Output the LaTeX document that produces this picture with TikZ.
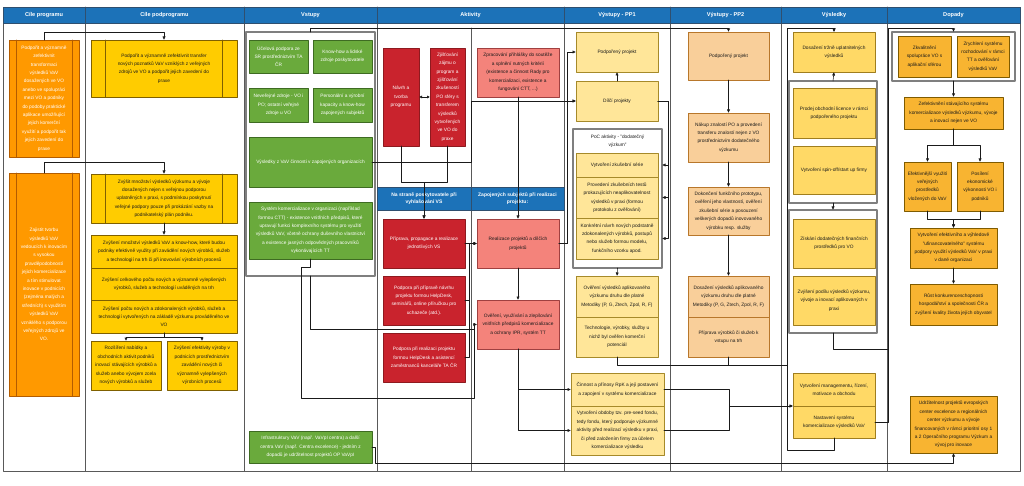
\documentclass[tikz,border=0pt]{standalone}
\usepackage{fontspec}
\setmainfont{Liberation Sans}
\usepackage{tikz}
\usetikzlibrary{arrows.meta,positioning,calc}
\definecolor{hdrblue}{HTML}{1C72B8}
\definecolor{hdrline}{HTML}{2F4F6F}
\definecolor{lanegray}{HTML}{595959}
\definecolor{boxgray}{HTML}{7F7F7F}
\definecolor{ink}{HTML}{1A1A1A}
\definecolor{orng}{HTML}{FF9900}
\definecolor{orngdark}{HTML}{B35C00}
\definecolor{gold}{HTML}{FFCC00}
\definecolor{golddark}{HTML}{7F6000}
\definecolor{leaf}{HTML}{6AAA3C}
\definecolor{leafdark}{HTML}{3E6B22}
\definecolor{crimson}{HTML}{C9232D}
\definecolor{crimsondark}{HTML}{8E1A1F}
\definecolor{salmon}{HTML}{F4837B}
\definecolor{salmondark}{HTML}{A04040}
\definecolor{paleyellow}{HTML}{FFE699}
\definecolor{paledark}{HTML}{A68A2A}
\definecolor{peach}{HTML}{F9CF9A}
\definecolor{peachdark}{HTML}{B8772B}
\definecolor{sand}{HTML}{FFD966}
\definecolor{sanddark}{HTML}{A07E1E}
\definecolor{amber}{HTML}{F8B431}
\definecolor{amberdark}{HTML}{7F5B00}
\tikzset{
    every picture/.style={line cap=round,line join=round},
    lmbox/.style={draw,line width=0.6pt,inner sep=1pt,outer sep=0pt,
      align=center,text=ink,font=\fontsize{4.8}{8.4}\selectfont},
    goalbox/.style={lmbox,fill=orng,draw=orngdark,text=white},
    subgoal/.style={lmbox,fill=gold,draw=golddark},
    inputbox/.style={lmbox,fill=leaf,draw=leafdark,text=white},
    actbox/.style={lmbox,fill=crimson,draw=crimsondark,text=white},
    projbox/.style={lmbox,fill=salmon,draw=salmondark},
    outone/.style={lmbox,fill=paleyellow,draw=paledark},
    outtwo/.style={lmbox,fill=peach,draw=peachdark},
    resultbox/.style={lmbox,fill=sand,draw=sanddark},
    impactbox/.style={lmbox,fill=amber,draw=amberdark},
    groupbox/.style={draw=boxgray,line width=1.2pt,fill=white,inner sep=0pt,outer sep=0pt},
    pocnote/.style={inner sep=0pt,align=center,text=ink,font=\fontsize{4.8}{8.4}\selectfont},
    lanehead/.style={draw=hdrline,fill=hdrblue,text=white,line width=0.6pt,
      inner sep=0pt,outer sep=0pt,align=center,font=\fontsize{5.6}{6.5}\selectfont\bfseries},
    sublane/.style={lanehead,font=\fontsize{5}{7.5}\selectfont\bfseries},
    lanerule/.style={draw=lanegray,line width=0.6pt},
    link/.style={draw=ink,line width=0.55pt},
    flow/.style={link,-{Latex[length=3.5pt,width=3.2pt]}}
}
\begin{document}
\begin{tikzpicture}[x=1pt,y=-1pt]
  \useasboundingbox (0,0) rectangle (1024,486);
  \draw[lanerule] (3,7) rectangle (1020,471);
  \foreach \x in {85,244,377,564,670,781,887}
    \draw[lanerule] (\x,7) -- (\x,471);
  \draw[lanerule] (471,28) -- (471,471);
  \foreach \n/\xa/\xb/\lbl in {hA/3/85/Cíle programu,hB/85/244/Cíle podprogramu,
      hC/244/377/Vstupy,hD/377/564/Aktivity,hE/564/670/Výstupy - PP1,
      hF/670/781/Výstupy - PP2,hG/781/887/Výsledky,hH/887/1020/Dopady}
    \node[lanehead,minimum width={(\xb-\xa)*1pt},minimum height=16pt] (\n) at ({(\xa+\xb)/2},15) {\lbl};
  \node[sublane,minimum width=94pt,minimum height=23pt] (sA) at (424,198.5) {Na straně poskytovatele při\\vyhlašování VS};
  \node[sublane,minimum width=93pt,minimum height=23pt] (sB) at (517.5,198.5) {Zapojených subjektů při realizaci\\projektu:};

  % cile
  \node[goalbox,minimum width=70pt,minimum height=117pt] (c1a) at (44,98.5) {Podpořit a významně\\zefektivnit\\transformaci\\výsledků VaV\\dosažených ve VO\\anebo ve spolupráci\\mezi VO a podniky\\do podoby praktické\\aplikace umožňující\\jejich komerční\\využití a podpořit tak\\jejich zavedení do\\praxe};
  \node[goalbox,minimum width=70pt,minimum height=223pt] (c1b) at (44,284.5) {Zajistit tvorbu\\výsledků VaV\\vedoucích k inovacím\\s vysokou\\pravděpodobností\\jejich komercializace\\a tím stimulovat\\inovace v podnicích\\(zejména malých a\\středních) s využitím\\výsledků VaV\\vzniklého s podporou\\veřejných zdrojů ve\\VO.};
  \node[subgoal,minimum width=146pt,minimum height=57pt] (c2a) at (164,68.5) {Podpořit a významně zefektivnit transfer\\nových poznatků VaV vzniklých z veřejných\\zdrojů ve VO a podpořit jejich zavedení do\\praxe};
  \node[subgoal,minimum width=146pt,minimum height=49pt] (c2b) at (164,198.5) {Zvýšit množství výsledků výzkumu a vývoje\\dosažených nejen s veřejnou podporou\\uplatněných v praxi, s podmínkou poskytnutí\\veřejné podpory pouze při prokázání vazby na\\podnikatelský plán podniku.};
  \node[subgoal,minimum width=146pt,minimum height=33pt] (c2c) at (164,251.5) {Zvýšení množství výsledků VaV a know-how, které budou\\podniky efektivně využity při zavádění nových výrobků, služeb\\a technologií na trh či při inovování výrobních procesů};
  \node[subgoal,minimum width=146pt,minimum height=32pt,below=0pt of c2c] (c2d) {Zvýšení celkového počtu nových a významně vylepšených\\výrobků, služeb a technologií uváděných na trh};
  \node[subgoal,minimum width=146pt,minimum height=33pt,below=0pt of c2d] (c2e) {Zvýšení počtu nových a zdokonalených výrobků, služeb a\\technologií vytvořených na základě výzkumu prováděného ve\\VO};
  \node[subgoal,minimum width=70pt,minimum height=49pt] (c2f) at (126,365.5) {Rozšíření nabídky a\\obchodních aktivit podniků\\inovací stávajících výrobků a\\služeb anebo vývojem zcela\\nových výrobků a služeb};
  \node[subgoal,minimum width=70pt,minimum height=49pt] (c2g) at (202,365.5) {Zvýšení efektivity výroby v\\podnicích prostřednictvím\\zavádění nových či\\významně vylepšených\\výrobních procesů};
  \foreach \b/\d/\c in {c1a/7/orngdark,c1b/7/orngdark,c2a/14.5/golddark,c2b/14.5/golddark} {
    \draw[\c,line width=0.6pt] ($(\b.north west)+(\d,0)$) -- ($(\b.south west)+(\d,0)$);
    \draw[\c,line width=0.6pt] ($(\b.north east)+(-\d,0)$) -- ($(\b.south east)+(-\d,0)$);
  }

  % vstupy
  \node[groupbox,minimum width=129pt,minimum height=244pt] (vst) at (310.5,154) {};
  \node[inputbox,minimum width=59pt,minimum height=33pt] (v1) at (278.5,56.5) {Účelová podpora ze\\SR prostřednictvím TA\\ČR};
  \node[inputbox,minimum width=59pt,minimum height=33pt] (v2) at (342.5,56.5) {Know-how a lidské\\zdroje poskytovatele};
  \node[inputbox,minimum width=59pt,minimum height=34pt] (v3) at (278.5,105) {Neveřejné zdroje - VO i\\PO; ostatní veřejné\\zdroje u VO};
  \node[inputbox,minimum width=59pt,minimum height=34pt] (v4) at (342.5,105) {Personální a výrobní\\kapacity a know-how\\zapojených subjektů};
  \node[inputbox,minimum width=123pt,minimum height=50pt] (v5) at (310.5,162) {Výsledky z VaV činnosti v zapojených organizacích};
  \node[inputbox,minimum width=123pt,minimum height=57pt] (v6) at (310.5,230.5) {Systém komercializace v organizaci (například\\formou CTT) - existence vnitřních předpisů, které\\upravují funkci komplexního systému pro využití\\výsledků VaV, včetně ochrany duševního vlastnictví\\a existence jasných odpovědných pracovníků\\vykonávajících TT};
  \node[inputbox,minimum width=123pt,minimum height=32pt] (v7) at (310.5,447) {Infrastruktury VaV (např. VaVpI centra) a další\\centra VaV (např. Centra excelence) - jedním z\\dopadů je udržitelnost projektů OP VaVpI};

  % aktivity
  \node[actbox,minimum width=36pt,minimum height=98pt] (a1) at (401,97) {Návrh a\\tvorba\\programu};
  \node[actbox,minimum width=35pt,minimum height=98pt] (a2) at (447.5,97) {Zjišťování\\zájmu o\\program a\\zjišťování\\zkušeností\\PO sféry s\\transferem\\výsledků\\vytvořených\\ve VO do\\praxe};
  \node[actbox,minimum width=82pt,minimum height=49pt] (a3) at (424,243.5) {Příprava, propagace a realizace\\jednotlivých VS};
  \node[actbox,minimum width=82pt,minimum height=49pt] (a4) at (424,300.5) {Podpora při přípravě návrhu\\projektu formou HelpDesk,\\seminářů, online příručkou pro\\uchazeče (atd.).};
  \node[actbox,minimum width=82pt,minimum height=49pt] (a5) at (424,357.5) {Podpora při realizaci projektu\\formou HelpDesk a asistencí\\zaměstnanců kanceláře TA ČR};
  \node[projbox,minimum width=82pt,minimum height=49pt] (b1) at (518,72.5) {Zpracování přihlášky do soutěže\\a splnění nutných kritérií\\(existence a činnost Rady pro\\komercializaci, existence a\\fungování CTT, ...)};
  \node[projbox,minimum width=82pt,minimum height=49pt] (b2) at (518,243.5) {Realizace projektů a dílčích\\projektů};
  \node[projbox,minimum width=82pt,minimum height=49pt] (b3) at (518,324.5) {Ověření, využívání a zlepšování\\vnitřních předpisů komercializace\\a ochrany IPR, systém TT};

  % vystupy PP1
  \node[outone,minimum width=82pt,minimum height=40pt] (p1) at (617,52) {Podpořený projekt};
  \node[outone,minimum width=82pt,minimum height=40pt] (p2) at (617,101) {Dílčí projekty};
  \node[groupbox,minimum width=89pt,minimum height=139pt] (poc) at (617.5,198.5) {};
  \node[pocnote] (poct) at (617.5,141.5) {PoC aktivity - "dodatečný\\výzkum"};
  \node[outone,minimum width=82pt,minimum height=24pt] (p3) at (617,165) {Vytvoření zkušební série};
  \node[outone,minimum width=82pt,minimum height=41pt,below=0pt of p3] (p4) {Provedení zkušebních testů\\prokazujících neaplikovatelnost\\výsledků v praxi (formou\\protokolu z ověřování)};
  \node[outone,minimum width=82pt,minimum height=41pt,below=0pt of p4] (p5) {Konkrétní návrh nových podstatně\\zdokonalených výrobků, postupů\\nebo služeb formou modelu,\\funkčního vzorku apod.};
  \node[outone,minimum width=82pt,minimum height=41pt] (p6) at (617,296.5) {Ověření výsledků aplikovaného\\výzkumu druhu dle platné\\Metodiky (P, G, Ztech, Zpol, R, F)};
  \node[outone,minimum width=82pt,minimum height=40pt,below=0pt of p6] (p7) {Technologie, výrobky, služby u\\nichž byl ověřen komerční\\potenciál};
  \node[outone,minimum width=93pt,minimum height=33pt] (p8) at (617.5,389.5) {Činnost a přínosy RpK a její postavení\\a zapojení v systému komercializace};
  \node[outone,minimum width=93pt,minimum height=49pt,below=0pt of p8] (p9) {Vytvoření obdoby tzv. pre-seed fondu,\\tedy fondu, který podporuje výzkumné\\aktivity před realizací výsledku v praxi,\\či před založením firmy za účelem\\komercializace výsledku};

  % vystupy PP2
  \node[outtwo,minimum width=81pt,minimum height=48pt] (q1) at (728.5,56) {Podpořený projekt};
  \node[outtwo,minimum width=81pt,minimum height=49pt] (q2) at (728.5,137.5) {Nákup znalostí PO a provedení\\transferu znalostí nejen z VO\\prostřednictvím dodatečného\\výzkumu};
  \node[outtwo,minimum width=81pt,minimum height=48pt] (q3) at (728.5,211) {Dokončení funkčního prototypu,\\ověření jeho vlastností, ověření\\zkušební série a posouzení\\veškerých dopadů inovovaného\\výrobku resp. služby};
  \node[outtwo,minimum width=81pt,minimum height=41pt] (q4) at (728.5,296.5) {Dosažení výsledků aplikovaného\\výzkumu druhu dle platné\\Metodiky (P, G, Ztech, Zpol, R, F)};
  \node[outtwo,minimum width=81pt,minimum height=40pt,below=0pt of q4] (q5) {Příprava výrobků či služeb k\\vstupu na trh};

  % vysledky
  \node[resultbox,minimum width=82pt,minimum height=40pt] (r1) at (834,52) {Dosažení tržně uplatnitelných\\výsledků};
  \node[groupbox,minimum width=88pt,minimum height=122pt] (rg1) at (833,142) {};
  \node[resultbox,minimum width=82pt,minimum height=50pt] (r2) at (834,113) {Prodej obchodní licence v rámci\\podpořeného projektu};
  \node[resultbox,minimum width=82pt,minimum height=48pt] (r3) at (834,170) {Vytvoření spin-off/start up firmy};
  \node[groupbox,minimum width=88pt,minimum height=123pt] (rg2) at (833,271.5) {};
  \node[resultbox,minimum width=82pt,minimum height=49pt] (r4) at (834,243.5) {Získání dodatečných finančních\\prostředků pro VO};
  \node[resultbox,minimum width=82pt,minimum height=49pt] (r5) at (834,300.5) {Zvýšení podílu výsledků výzkumu,\\vývoje a inovací aplikovaných v\\praxi};
  \node[resultbox,minimum width=82pt,minimum height=33pt] (r6) at (834,389.5) {Vytvoření managementu, řízení,\\motivace a obchodu};
  \node[resultbox,minimum width=82pt,minimum height=32pt,below=0pt of r6] (r7) {Nastavení systému\\komercializace výsledků VaV};

  % dopady
  \node[groupbox,minimum width=123pt,minimum height=49pt] (dg) at (953.5,56.5) {};
  \node[impactbox,minimum width=53pt,minimum height=41pt] (d1) at (924.5,56.5) {Zkvalitnění\\spolupráce VO s\\aplikační sférou};
  \node[impactbox,minimum width=52pt,minimum height=41pt] (d2) at (983,56.5) {Zrychlení systému\\rozhodování v rámci\\TT a ověřování\\výsledků VaV};
  \node[impactbox,minimum width=99pt,minimum height=32pt] (d3) at (953.5,113) {Zefektivnění stávajícího systému\\komercializace výsledků výzkumu, vývoje\\a inovací nejen ve VO};
  \node[impactbox,minimum width=47pt,minimum height=49pt] (d4) at (927.5,186.5) {Efektivnější využití\\veřejných\\prostředků\\vložených do VaV};
  \node[impactbox,minimum width=46pt,minimum height=49pt] (d5) at (980,186.5) {Posílení\\ekonomické\\výkonnosti VO i\\podniků};
  \node[impactbox,minimum width=87pt,minimum height=40pt] (d6) at (953.5,248) {Vytvoření efektivního a výhledově\\"ufinancovatelného" systému\\podpory využití výsledků VaV v praxi\\v dané organizaci};
  \node[impactbox,minimum width=87pt,minimum height=41pt] (d7) at (953.5,304.5) {Růst konkurenceschopnosti\\hospodářství a společnosti ČR a\\zvýšení kvality života jejích obyvatel};
  \node[impactbox,minimum width=87pt,minimum height=57pt] (d8) at (953.5,424.5) {Udržitelnost projektů evropských\\center excelence a regionálních\\center výzkumu a vývoje\\financovaných v rámci prioritní osy 1\\a 2 Operačního programu Výzkum a\\vývoj pro inovace};

  % connectors
  \draw[flow] (c1a.north) -- ++(0,-8) -| (c2a.north);
  \draw[flow] (c1b.north) -- ++(0,-11) -| (c2b.north);
  \draw[flow] (c2b.south) -- (c2c.north);
  \draw[flow] (c2e.south) -- ++(0,4) -| (c2f.north);
  \draw[flow] (c2e.south) -- ++(0,4) -| (c2g.north);
  \draw[flow] (vst.north) -- ++(0,-4) -| (q1.north);
  \draw[flow] (v5.east) -- ++(99,0) |- (p2.west);
  \draw[link,{Latex[length=3pt,width=3pt]}-{Latex[length=3pt,width=3pt]}] (a1.east) -- (a2.west);
  \draw[flow] (a1.south) -- ++(0,36) -| (a3.north);
  \draw[flow] (a2.south) -- ++(0,36) -| (a3.north);
  \draw[flow] (a3.east) -- (b2.west);
  \draw[flow] (a4.east) -- ++(4,0) |- (b2.west);
  \draw[flow] (a5.east) -- ++(4,0) |- (b2.west);
  \draw[flow] (b1.south) -- (b2.north);
  \draw[flow] (b2.south) -- (b3.north);
  \draw[flow] (v6.south) -- ++(0,8) -- ++(-9,0) -- ++(0,131) -- ++(172.5,0) |- (b3.west);
  \draw[flow] (vst.south) -- ++(0,53) -- ++(163.5,0) |- (b3.west);
  \draw[flow] (b3.south) |- (p8.west);
  \draw[flow] (b3.south) |- (p9.west);
  \draw[flow] (b2.east) -- ++(8,0) |- (p1.west);
  \draw[flow] (b2.east) -- ++(8,0) |- (p2.west);
  \draw[flow] (p2.north) -- (p1.south);
  \draw[flow] (p2.east) -- ++(10,0) |- (poc.east |- p3.east);
  \draw[flow] (p2.east) -- ++(10,0) |- (poc.east |- p4.east);
  \draw[flow] (p2.east) -- ++(10,0) |- (poc.east |- p5.east);
  \draw[flow] (poc.south) -- (p6.north);
  \draw[flow] (q1.south) -- (q2.north);
  \draw[flow] (q2.south) -- (q3.north);
  \draw[flow] (q3.south) -- (q4.north);
  \draw[flow] (p7.south) -- ++(0,8) -| ++(170.5,-337) -| (r1.north);
  \draw[link] (q5.south) -- ++(0,8) -- ++(58.5,0);
  \draw[flow] (p8.east) -- ++(65,0) -- ++(0,16.5) -- (r6.south west);
  \draw[flow] (p9.east) -- ++(65,0) -- ++(0,-24.5) -- (r6.south west);
  \draw[flow] (rg1.north) -- (r1.south);
  \draw[flow] (rg1.south) -- (rg2.north);
  \draw[flow] (rg2.south) -- ++(0,16) -| ++(55,-321) -| (dg.north);
  \draw[link] (r7.east) -- ++(13,0) -- ++(0,-73);
  \draw[flow] (r7.south) -- ++(0,12) -- ++(-46.5,0) -- ++(0,-422) -| (r1.north);
  \draw[flow] (dg.south) -- (d3.north);
  \draw[flow] (d3.south) -- ++(0,16) -| (d4.north);
  \draw[flow] (d3.south) -- ++(0,16) -| (d5.north);
  \draw[flow] (d4.south) -- ++(0,8) -| (d6.north);
  \draw[flow] (d5.south) -- ++(0,8) -| (d6.north);
  \draw[flow] (d6.south) -- (d7.north);
  \draw[flow] (v7.east) -- ++(3,0) -- ++(0,16) -| (d8.south);
\end{tikzpicture}
\end{document}
